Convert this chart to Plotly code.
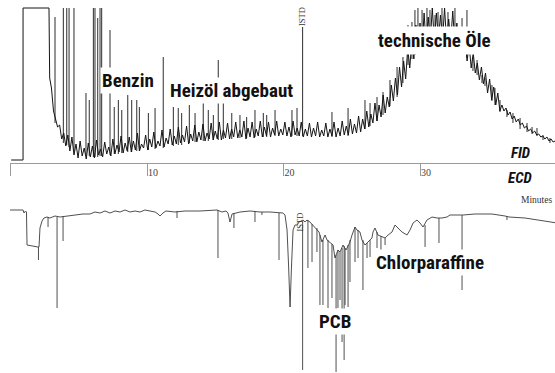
import plotly.graph_objects as go

# ---------------- FID (upper trace) ----------------
# leading part: injection step, saturated solvent plateau, start of descent  (minutes, signal)
fid_head = [(0.05, 3), (0.92, 3), (0.92, 155), (2.82, 155), (2.87, 85)]
# dense baseline/noise read every 0.15 min from 3.0 min on
fid_grid_start = 3.0
fid_grid_step = 0.15
fid_noise = [
    75, 52, 44, 36, 38, 24, 30, 17, 28, 12,
    26, 8, 19, 5, 22, 7, 15, 4, 20, 6,
    17, 5, 23, 8, 14, 6, 21, 9, 16, 7,
    24, 9, 18, 11, 27, 10, 20, 12, 26, 11,
    22, 13, 30, 12, 19, 15, 28, 13, 24, 16,
    31, 15, 22, 17, 33, 16, 25, 19, 34, 18,
    27, 19, 36, 20, 28, 21, 37, 19, 29, 22,
    38, 21, 31, 23, 39, 22, 30, 24, 40, 23,
    32, 24, 41, 23, 33, 25, 40, 24, 34, 26,
    41, 25, 33, 26, 42, 24, 35, 26, 41, 25,
    34, 27, 42, 26, 36, 27, 41, 26, 35, 28,
    42, 27, 34, 28, 41, 27, 36, 26, 42, 28,
    35, 27, 41, 26, 34, 27, 40, 26, 35, 27,
    41, 26, 33, 27, 40, 26, 34, 27, 41, 26,
    35, 27, 42, 28, 37, 28, 44, 29, 39, 30,
    47, 31, 44, 34, 52, 36, 49, 40, 60, 42,
    58, 46, 68, 50, 66, 56, 78, 62, 85, 68,
    96, 76, 102, 84, 115, 95, 122, 104, 138, 110,
    140, 114, 150, 118, 146, 121, 155, 122, 150, 123,
    148, 123, 155, 121, 144, 121, 152, 119, 140, 116,
    134, 110, 125, 102, 118, 95, 110, 90, 100, 83,
    96, 79, 90, 70, 84, 63, 76, 58, 70, 52,
    58, 52, 55, 48, 51, 44, 47, 41, 44, 38,
    40, 35, 37, 32, 34, 30, 32, 28, 29, 26,
    27, 24, 26, 22, 24, 21, 22, 19,
]
# individual peaks: (retention time, foot, apex)
fid_peaks = [
    (3.26, 40, 146), (3.87, 20, 155), (4.12, 18, 155), (4.29, 16, 155), (4.65, 12, 155),
    (5.53, 7, 70), (5.77, 7, 63), (6.07, 6, 155), (6.19, 6, 155), (6.39, 6, 145),
    (6.56, 7, 155), (6.68, 7, 155), (7.29, 8, 133), (7.60, 9, 56), (7.90, 9, 63),
    (8.15, 10, 53), (8.59, 11, 68), (8.88, 11, 63), (9.25, 12, 63), (9.44, 12, 56),
    (10.10, 13, 50), (10.59, 14, 55), (11.19, 15, 106), (11.93, 17, 56), (12.29, 18, 55),
    (12.54, 18, 50), (13.10, 20, 58), (13.52, 21, 50), (14.12, 22, 60), (14.49, 22, 53),
    (14.86, 23, 48), (15.22, 23, 103), (15.59, 24, 60), (16.21, 24, 50), (16.81, 25, 48),
    (17.30, 25, 46), (17.91, 26, 53), (18.52, 26, 50), (18.77, 26, 48), (19.38, 27, 53),
    (20.62, 27, 53), (20.99, 27, 55), (21.40, 27, 136), (23.55, 26, 51), (24.73, 27, 55),
    (25.97, 34, 63), (26.34, 37, 60), (26.85, 42, 66), (27.29, 48, 71), (27.80, 57, 83),
    (28.32, 66, 96), (28.75, 80, 106), (29.12, 98, 138), (29.41, 104, 141), (29.63, 108, 153),
    (29.85, 112, 155), (30.15, 115, 153), (30.51, 120, 155), (30.73, 121, 153), (31.10, 122, 148),
    (31.32, 123, 151), (31.61, 123, 155), (32.05, 122, 151), (32.56, 120, 155), (33.08, 113, 145),
    (33.44, 105, 153), (33.88, 92, 106), (34.18, 88, 103), (34.54, 80, 88), (34.76, 77, 85),
    (35.27, 62, 78), (35.49, 58, 75), (35.86, 51, 63), (36.37, 46, 53), (36.81, 40, 50),
    (37.33, 34, 45), (37.84, 31, 40), (38.21, 29, 36), (38.57, 27, 35), (39.01, 23, 28),
    (39.52, 20, 25),
]

# ---------------- ECD (lower trace, negative peaks) ----------------
ecd_line = [
    (-0.11, 0), (0.92, 0), (0.99, -3), (1.10, -1), (1.17, -2), (1.21, -35), (2.01, -37),
    (2.09, -37), (2.16, -18), (2.31, -11), (2.45, -8), (2.67, -7), (2.89, -8), (3.26, -6),
    (3.63, -7), (4.14, -6), (4.73, -5), (5.31, -4), (5.82, -4), (6.19, -2), (6.56, -3),
    (6.92, -1), (7.29, -3), (7.66, -1), (8.02, -2), (8.39, 0), (8.75, -2), (9.12, -1),
    (9.49, -2), (9.85, 0), (10.22, -1), (10.59, -2), (10.81, -4), (10.95, -6), (11.17, -3),
    (11.39, -1), (12.05, -2), (12.78, -1), (13.88, -1), (14.62, 0), (15.13, 0), (15.49, -2),
    (15.79, -1), (15.93, -3), (16.08, -12), (16.23, -4), (16.52, -3), (16.81, -2), (17.55, -1),
    (18.28, -2), (19.01, -2), (19.60, -3), (19.96, -3), (20.11, -5), (20.26, -20), (20.37, -55),
    (20.48, -97), (20.59, -55), (20.70, -20), (20.84, -15), (20.99, -15), (21.14, -12),
    (21.43, -10), (21.58, -12), (21.72, -10), (21.94, -12), (22.16, -15), (22.31, -18),
    (22.60, -22), (22.82, -32), (23.04, -25), (23.19, -30), (23.41, -33), (23.63, -35),
    (23.77, -48), (23.99, -40), (24.14, -42), (24.36, -35), (24.58, -40), (24.87, -32),
    (25.02, -25), (25.24, -17), (25.38, -20), (25.60, -22), (25.75, -30), (25.97, -35),
    (26.19, -32), (26.48, -28), (26.56, -22), (26.70, -18), (26.92, -25), (27.22, -27),
    (27.44, -28), (27.66, -25), (27.95, -22), (28.17, -15), (28.39, -18), (28.68, -22),
    (29.05, -25), (29.27, -20), (29.49, -13), (29.78, -10), (30.00, -13), (30.22, -17),
    (30.51, -10), (30.88, -7), (31.25, -8), (31.61, -8), (31.98, -7), (32.20, -5),
    (32.71, -5), (33.15, -5), (34.03, -4), (35.27, -4), (36.23, -6), (36.52, -7),
    (37.69, -8), (38.94, -11), (40.04, -13),
]
# negative peaks: (retention time, foot, lowest point)
ecd_peaks = [
    (2.05, -37, -50), (2.75, -7, -17), (3.41, -7, -98), (3.85, -6, -31), (12.20, -1, -8),
    (15.20, 0, -48), (16.37, -3, -18), (17.91, -1, -12), (18.42, -2, -5), (19.67, -3, -50),
    (21.40, -12, -160), (21.79, -10, -58), (22.09, -14, -52), (22.45, -18, -42), (22.67, -25, -95),
    (22.89, -30, -95), (23.26, -30, -98), (23.55, -34, -88), (23.85, -45, -162), (23.99, -40, -98),
    (24.14, -42, -90), (24.29, -38, -132), (24.44, -36, -150), (24.51, -38, -95), (24.73, -35, -97),
    (24.87, -30, -72), (25.24, -17, -52), (25.46, -20, -48), (25.82, -30, -80), (26.12, -33, -48),
    (26.34, -30, -47), (26.85, -22, -38), (27.14, -26, -42), (27.44, -28, -35), (30.37, -15, -37),
    (31.39, -8, -33), (33.08, -5, -80), (36.37, -6, -10),
]

tick_vals = [0, 10, 20, 30]
tick_text = ["", "10", "20", "30"]


def spikes(peaks):
    xs, ys = [], []
    for t, foot, tip in peaks:
        xs += [t, t, None]
        ys += [foot, tip, None]
    return xs, ys


fid_x = [p[0] for p in fid_head] + [round(fid_grid_start + fid_grid_step * i, 3) for i in range(len(fid_noise))]
fid_y = [p[1] for p in fid_head] + fid_noise
ecd_x = [p[0] for p in ecd_line]
ecd_y = [p[1] for p in ecd_line]

W, H = 555, 373
fig = go.Figure()
fig.add_trace(go.Scatter(x=fid_x, y=fid_y, mode="lines", line=dict(color="#151515", width=1.0),
                         xaxis="x", yaxis="y", hoverinfo="skip"))
sx, sy = spikes(fid_peaks)
fig.add_trace(go.Scatter(x=sx, y=sy, mode="lines", line=dict(color="#151515", width=0.9),
                         xaxis="x", yaxis="y", hoverinfo="skip"))
fig.add_trace(go.Scatter(x=ecd_x, y=ecd_y, mode="lines", line=dict(color="#3c3c3c", width=0.9),
                         xaxis="x", yaxis="y2", hoverinfo="skip"))
sx, sy = spikes(ecd_peaks)
fig.add_trace(go.Scatter(x=sx, y=sy, mode="lines", line=dict(color="#3c3c3c", width=0.9),
                         xaxis="x", yaxis="y2", hoverinfo="skip"))

cond = "Liberation Sans Narrow, Arial Narrow, Roboto Condensed, Roboto, Liberation Sans, sans-serif"
bold = dict(family=cond, size=19, color="#111", weight="bold")
tag = dict(family=cond, size=15, color="#111", weight="bold", style="italic")
serif = "Liberation Serif, Times New Roman, serif"


def lab(text, px, py, font, xanchor="center", **kw):
    return dict(text=text, x=px / W, y=1 - py / H, xref="paper", yref="paper",
                xanchor=xanchor, yanchor="middle", showarrow=False, font=font, **kw)


annotations = [
    lab("Benzin", 128, 80, bold, bgcolor="white", borderpad=1),
    lab("Heizöl abgebaut", 231, 91, bold, bgcolor="white", borderpad=1),
    lab("technische Öle", 434, 41, bold, bgcolor="white", borderpad=2),
    lab("PCB", 335, 321, bold, bgcolor="white", borderpad=1),
    lab("Chlorparaffine", 430, 262, bold, bgcolor="white", borderpad=1),
    lab("FID", 520, 153, tag),
    lab("ECD", 520, 178, tag),
    lab("Minutes", 554, 200, dict(family=serif, size=9.5, color="#333"), xanchor="right"),
    lab("ISTD", 302, 17, dict(family=serif, size=8.5, color="#333"), textangle=-90),
    lab("ISTD", 299.5, 222, dict(family=serif, size=8.5, color="#333"), textangle=-90),
]

fig.update_layout(
    width=W, height=H, margin=dict(l=0, r=0, t=0, b=0),
    paper_bgcolor="white", plot_bgcolor="white", showlegend=False,
    xaxis=dict(domain=[10 / W, 1], range=[(10 - 10.5) / 13.65, (555 - 10.5) / 13.65], anchor="y",
               showgrid=False, zeroline=False, showline=True, linecolor="#9a9a9a", linewidth=1,
               ticks="outside", ticklen=12, tickcolor="#9a9a9a", tickwidth=1,
               tickvals=tick_vals, ticktext=tick_text, ticklabelposition="outside right",
               tickfont=dict(family=serif, size=10, color="#444")),
    yaxis=dict(domain=[1 - 163 / H, 1 - 6 / H], range=[0, 157], visible=False, fixedrange=True),
    yaxis2=dict(domain=[0, 1 - 180 / H], range=[-163, 30], visible=False, anchor="x"),
    annotations=annotations,
)

fig.write_html("out.html")
